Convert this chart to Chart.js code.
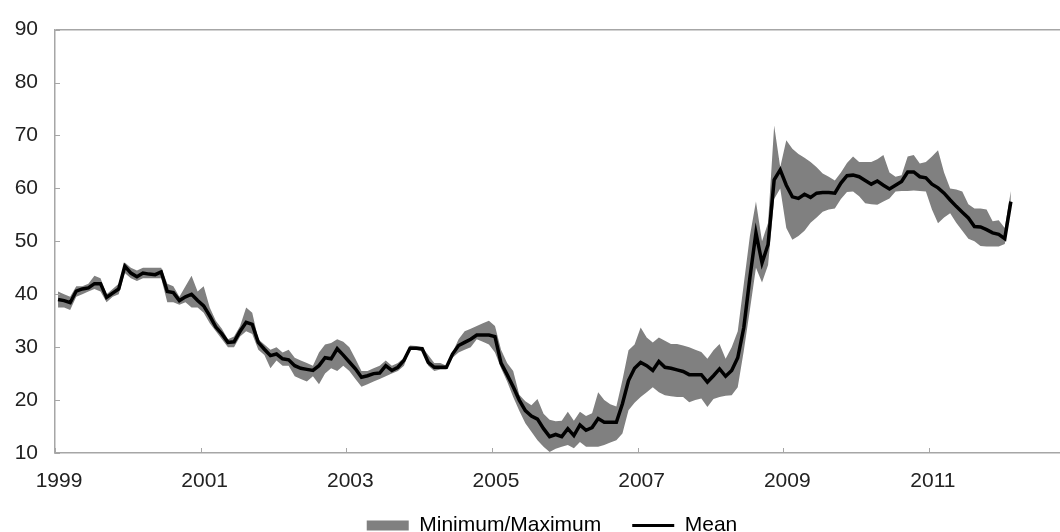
<!DOCTYPE html>
<html>
<head>
<meta charset="utf-8">
<script src="https://cdn.jsdelivr.net/npm/chart.js@4/dist/chart.umd.min.js"></script>
<style>
  html, body { margin: 0; padding: 0; background: #fff; }
  #wrap { width: 1060px; height: 532px; }
</style>
</head>
<body>
<div id="wrap"><canvas id="chart"></canvas></div>
<script>
// monthly series, Jan 1999 .. Feb 2012
const startYear = 1999;
const yearLabels = ['1999', '2001', '2003', '2005', '2007', '2009', '2011'];

const meanValues = [
  39.0, 38.8, 38.4, 40.6, 41.0, 41.2, 42.0, 42.0, 39.4, 40.2, 41.0, 45.3, // 1999
  44.0, 43.3, 44.0, 43.8, 43.7, 44.2, 40.5, 40.3, 38.8, 39.5, 40.0, 38.8, // 2000
  37.8, 35.9, 33.8, 32.5, 30.9, 31.0, 33.0, 34.7, 34.3, 30.9, 29.6, 28.4, // 2001
  28.7, 27.8, 27.6, 26.5, 26.0, 25.8, 25.6, 26.5, 28.0, 27.8, 29.7, 28.5, // 2002
  27.2, 25.9, 24.3, 24.6, 25.0, 25.1, 26.5, 25.6, 26.2, 27.5, 29.8, 29.8, // 2003
  29.7, 27.1, 26.2, 26.2, 26.2, 28.7, 30.3, 30.9, 31.5, 32.3, 32.3, 32.3, // 2004
  32.0, 27.0, 24.8, 22.5, 20.0, 18.0, 17.0, 16.4, 14.6, 13.1, 13.5, 13.1, // 2005
  14.6, 13.3, 15.3, 14.3, 14.8, 16.5, 15.8, 15.8, 15.8, 19.3, 23.7, 26.0, // 2006
  27.1, 26.5, 25.6, 27.3, 26.2, 26.0, 25.7, 25.4, 24.8, 24.8, 24.8, 23.4, // 2007
  24.6, 25.9, 24.5, 25.6, 28.0, 33.7, 43.1, 51.6, 45.9, 49.4, 61.6, 63.5, // 2008
  60.6, 58.4, 58.1, 58.9, 58.3, 59.1, 59.2, 59.2, 59.1, 61.0, 62.4, 62.5, // 2009
  62.2, 61.5, 60.8, 61.4, 60.6, 59.9, 60.6, 61.3, 63.1, 63.1, 62.2, 62.0, // 2010
  60.8, 60.1, 59.1, 57.8, 56.6, 55.5, 54.4, 52.8, 52.7, 52.2, 51.6, 51.3, // 2011
  50.5, 57.5                                                              // 2012
];

const minValues = [
  37.5, 37.5, 37.0, 39.5, 40.0, 40.5, 41.0, 40.5, 38.5, 39.5, 40.0, 44.0,
  43.0, 42.5, 43.0, 43.0, 43.0, 43.0, 38.5, 38.5, 38.0, 38.5, 37.5, 37.5,
  36.5, 34.5, 33.0, 31.5, 30.0, 30.0, 32.0, 33.0, 32.5, 29.5, 28.5, 26.0,
  27.5, 26.5, 26.5, 24.5, 24.0, 23.5, 24.5, 23.0, 25.0, 26.0, 25.5, 26.5,
  25.5, 24.0, 22.5, 23.0, 23.5, 24.0, 24.5, 25.0, 25.5, 26.5, 29.5, 29.5,
  29.2, 26.5, 25.5, 25.8, 25.8, 28.0, 29.0, 29.5, 30.0, 31.5, 31.0, 30.5,
  29.0, 26.0, 23.5, 20.6, 18.0, 15.6, 14.0, 12.4, 11.2, 10.2, 10.8, 11.2,
  11.5, 10.9, 12.1, 11.2, 11.2, 11.2, 11.5, 12.0, 12.4, 13.7, 18.1, 19.5,
  20.6, 21.5, 22.4, 21.5, 20.9, 20.7, 20.6, 20.6, 19.6, 20.0, 20.3, 18.7,
  20.2, 20.6, 20.8, 20.9, 22.4, 29.3, 37.0, 45.0, 42.2, 45.5, 58.0, 60.0,
  52.5, 50.3, 51.0, 52.0, 53.5, 54.5, 55.6, 56.0, 56.2, 58.0, 59.3, 59.4,
  58.5, 57.2, 57.0, 56.9, 57.5, 58.1, 59.4, 59.5, 59.5, 59.6, 59.5, 59.4,
  56.0, 53.4, 54.5, 55.3, 53.5, 52.0, 50.5, 50.0, 49.1, 49.0, 49.0, 49.0,
  49.5, 57.0
];

const maxValues = [
  40.5, 40.0, 39.5, 41.5, 41.5, 42.0, 43.5, 43.0, 40.0, 41.0, 42.0, 46.0,
  45.0, 44.5, 45.0, 45.0, 45.0, 45.0, 42.0, 41.5, 39.5, 41.5, 43.5, 40.5,
  41.5, 37.5, 35.0, 33.5, 31.5, 32.0, 34.0, 37.5, 36.5, 31.5, 30.5, 29.5,
  30.0, 29.0, 29.5, 28.0, 27.5, 27.0, 26.5, 29.0, 30.5, 30.8, 31.5, 31.0,
  30.0, 27.8, 25.5, 25.5, 26.0, 26.5, 27.5, 26.5, 27.0, 28.0, 30.3, 30.2,
  30.0, 28.5, 27.0, 27.0, 26.5, 29.0, 31.5, 33.0, 33.5, 34.0, 34.5, 35.0,
  34.0, 29.5, 27.0, 25.5, 21.0, 19.8, 19.0, 20.2, 17.4, 16.3, 16.0, 16.1,
  17.8, 16.1, 17.8, 17.0, 17.5, 21.5, 20.0, 19.2, 18.8, 23.8, 29.4, 30.5,
  33.7, 31.8, 30.9, 31.8, 31.2, 30.6, 30.6, 30.3, 30.0, 29.5, 29.1, 27.8,
  29.4, 30.6, 27.8, 30.0, 33.0, 42.0, 51.0, 57.5, 50.0, 53.5, 71.9, 64.0,
  69.1, 67.5, 66.5, 65.8, 65.0, 64.0, 62.8, 62.2, 61.5, 63.0, 64.8, 66.0,
  65.0, 65.0, 65.0, 65.5, 66.3, 63.0, 62.2, 62.5, 66.0, 66.3, 64.7, 65.0,
  66.0, 67.2, 63.0, 60.0, 59.8, 59.4, 57.0, 56.2, 56.2, 56.0, 53.8, 54.0,
  52.5, 59.5
];

const GREY_BAND = '#808080';
const AXIS_GREY = '#a6a6a6';
const TEXT = '#222';
const FONT = "'Liberation Sans', Arial, sans-serif";

// each month sits in the middle of its slot on the month axis
const toPoints = arr => arr.map((v, i) => ({ x: i + 0.5, y: v }));

// small inward tick marks like the original axis
const innerTicks = {
  id: 'innerTicks',
  afterDraw(chart) {
    const { ctx, scales: { x, y }, chartArea } = chart;
    ctx.save();
    ctx.strokeStyle = AXIS_GREY;
    ctx.lineWidth = 1;
    ctx.beginPath();
    x.ticks.forEach(t => {
      const px = Math.round(x.getPixelForValue(t.value)) + 0.5;
      ctx.moveTo(px, chartArea.bottom);
      ctx.lineTo(px, chartArea.bottom - 5);
    });
    y.ticks.forEach(t => {
      const py = Math.round(y.getPixelForValue(t.value)) + 0.5;
      ctx.moveTo(chartArea.left, py);
      ctx.lineTo(chartArea.left + 5, py);
    });
    ctx.stroke();
    ctx.restore();
  }
};

// x labels hang below the thin axis box; legend sits lower and a bit right
// (it was centred on the uncropped original)
const layoutTweak = {
  id: 'layoutTweak',
  afterLayout(chart) {
    chart.scales.x.bottom = chart.height;
    const lg = chart.legend;
    lg.left += 22;
    lg.right += 22;
    lg.top += 14;
    lg.bottom += 14;
  }
};

new Chart(document.getElementById('chart'), {
  type: 'line',
  data: {
    datasets: [
      {
        label: 'Mean',
        data: toPoints(meanValues),
        borderColor: '#000',
        borderWidth: 3.5,
        pointRadius: 0,
        tension: 0,
        fill: false
      },
      {
        label: 'Minimum/Maximum',
        data: toPoints(maxValues),
        borderWidth: 0,
        borderColor: GREY_BAND,
        backgroundColor: GREY_BAND,
        pointRadius: 0,
        tension: 0,
        fill: '+1'
      },
      {
        label: 'min',
        data: toPoints(minValues),
        borderWidth: 0,
        borderColor: GREY_BAND,
        pointRadius: 0,
        tension: 0,
        fill: false
      }
    ]
  },
  options: {
    responsive: true,
    maintainAspectRatio: false,
    animation: false,
    layout: { padding: { top: 27, right: 0, bottom: 0, left: 0 } },
    plugins: {
      tooltip: { enabled: false },
      legend: {
        position: 'bottom',
        labels: {
          color: TEXT,
          font: { family: FONT, size: 21 },
          usePointStyle: true,
          pointStyleWidth: 42,
          boxWidth: 42,
          boxHeight: 10,
          padding: 31,
          generateLabels: () => [
            { text: 'Minimum/Maximum', pointStyle: 'rect', fillStyle: GREY_BAND, strokeStyle: GREY_BAND, lineWidth: 0, datasetIndex: 1 },
            { text: 'Mean', pointStyle: 'line', fillStyle: '#000', strokeStyle: '#000', lineWidth: 3, datasetIndex: 0 }
          ]
        }
      }
    },
    scales: {
      x: {
        type: 'linear',
        min: 0,
        max: 165.6,
        afterFit(scale) { scale.height = 17; },
        afterBuildTicks(scale) {
          scale.ticks = yearLabels.map(l => ({ value: (Number(l) - startYear) * 12 }));
        },
        ticks: {
          color: TEXT,
          font: { family: FONT, size: 21 },
          padding: 16,
          labelOffset: 4,
          maxRotation: 0,
          autoSkip: false,
          callback: (v, i) => yearLabels[i]
        },
        grid: { display: true, drawOnChartArea: false, drawTicks: false },
        border: { display: true, color: AXIS_GREY, width: 1.5 }
      },
      y: {
        min: 10,
        max: 90,
        afterFit(scale) { scale.width = 55; },
        ticks: {
          stepSize: 10,
          color: TEXT,
          font: { family: FONT, size: 21 },
          padding: 17
        },
        grid: {
          drawTicks: false,
          color: ctx => (ctx.tick && ctx.tick.value === 90 ? AXIS_GREY : 'transparent'),
          lineWidth: 1.5
        },
        border: { display: true, color: AXIS_GREY, width: 1.5 }
      }
    }
  },
  plugins: [innerTicks, layoutTweak]
});
</script>
</body>
</html>
